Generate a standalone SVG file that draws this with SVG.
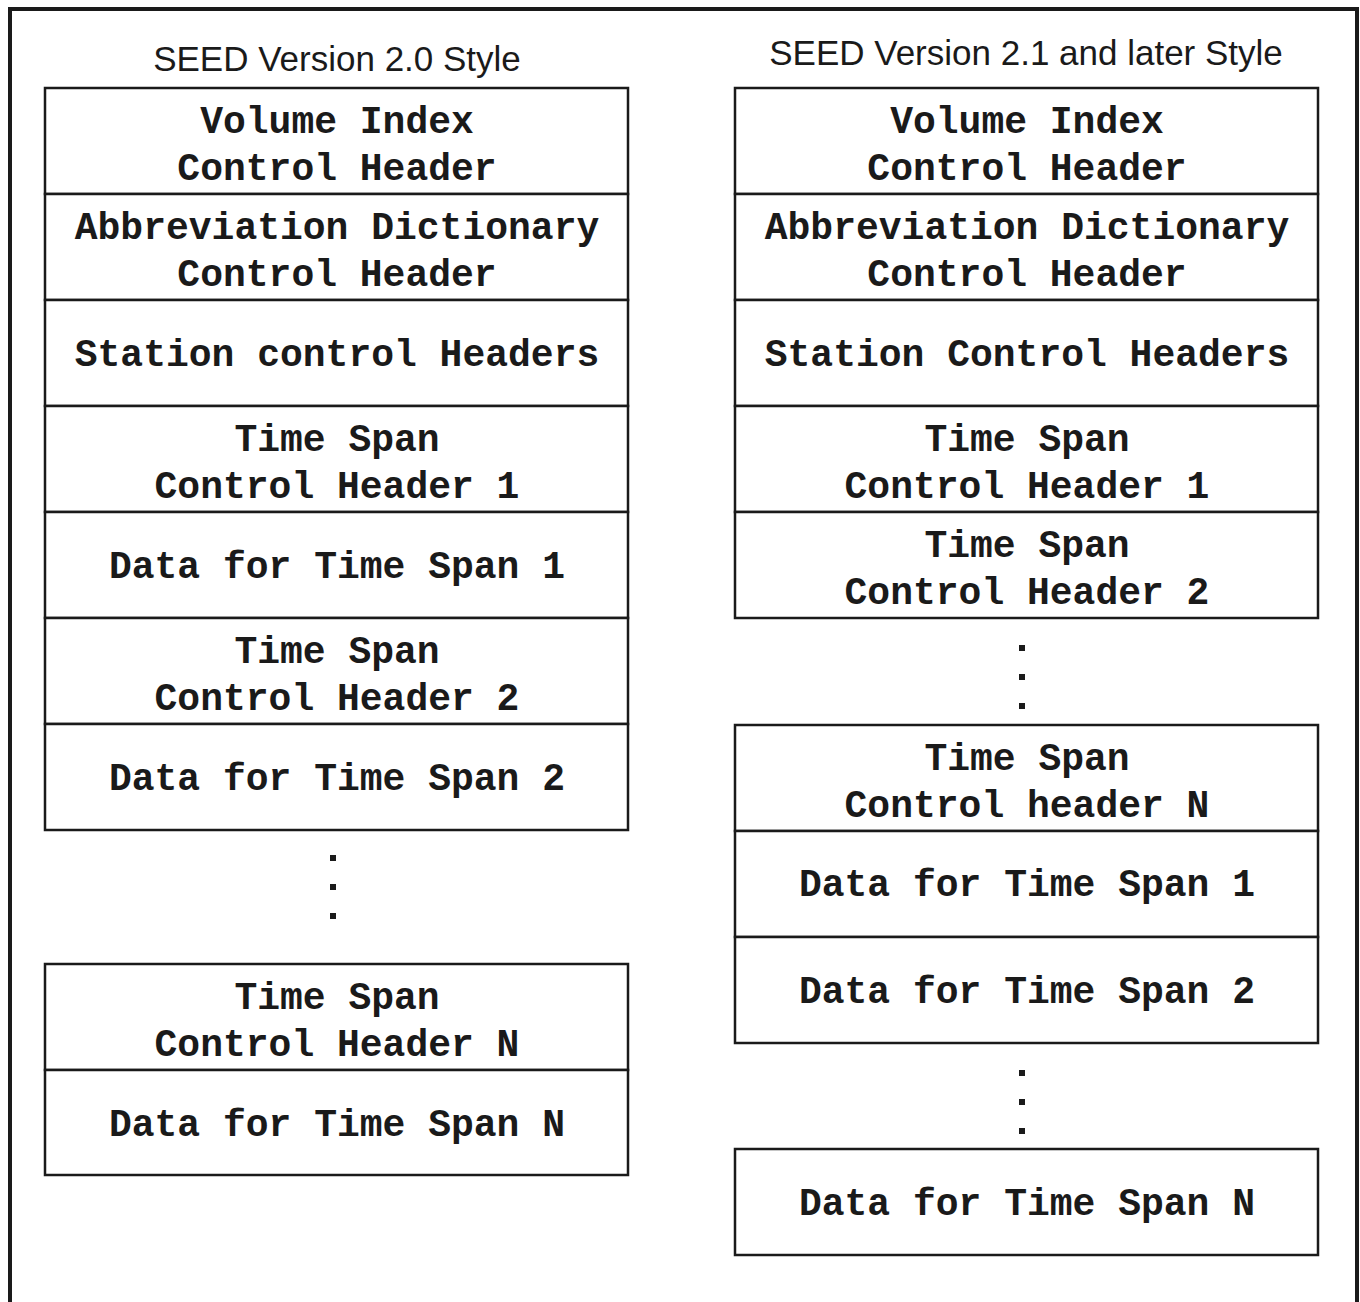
<svg xmlns="http://www.w3.org/2000/svg" width="1360" height="1302" viewBox="0 0 1360 1302">
<style>
.box{fill:#fff;stroke:#1a1a1a;stroke-width:2.5}
.t{font-family:"Liberation Mono","Courier New",monospace;font-weight:bold;font-size:38px;fill:#1a1a1a;text-anchor:middle}
.h{font-family:"Liberation Sans",Arial,sans-serif;font-size:35px;fill:#1a1a1a;text-anchor:middle}
.dot{fill:#1a1a1a}
</style>
<rect width="1360" height="1302" fill="#fff"/>
<path d="M10,1302 V9 H1357 V1302" fill="none" stroke="#1a1a1a" stroke-width="4"/>
<text class="h" x="337" y="71">SEED Version 2.0 Style</text>
<text class="h" x="1026" y="65">SEED Version 2.1 and later Style</text>

<g id="left">
<g id="l1"><rect class="box" x="45" y="88" width="583" height="106"/><text class="t" x="337" y="133">Volume Index</text><text class="t" x="337" y="180">Control Header</text></g>
<g id="l2"><rect class="box" x="45" y="194" width="583" height="106"/><text class="t" x="337" y="239">Abbreviation Dictionary</text><text class="t" x="337" y="286">Control Header</text></g>
<g id="l3"><rect class="box" x="45" y="300" width="583" height="106"/><text class="t" x="337" y="366">Station control Headers</text></g>
<g id="l4"><rect class="box" x="45" y="406" width="583" height="106"/><text class="t" x="337" y="451">Time Span</text><text class="t" x="337" y="498">Control Header 1</text></g>
<g id="l5"><rect class="box" x="45" y="512" width="583" height="106"/><text class="t" x="337" y="578">Data for Time Span 1</text></g>
<g id="l6"><rect class="box" x="45" y="618" width="583" height="106"/><text class="t" x="337" y="663">Time Span</text><text class="t" x="337" y="710">Control Header 2</text></g>
<g id="l7"><rect class="box" x="45" y="724" width="583" height="106"/><text class="t" x="337" y="790">Data for Time Span 2</text></g>
<g id="ldots"><rect class="dot" x="330" y="855" width="6" height="6"/><rect class="dot" x="330" y="884" width="6" height="6"/><rect class="dot" x="330" y="913" width="6" height="6"/></g>
<g id="l8"><rect class="box" x="45" y="964" width="583" height="106"/><text class="t" x="337" y="1009">Time Span</text><text class="t" x="337" y="1056">Control Header N</text></g>
<g id="l9"><rect class="box" x="45" y="1070" width="583" height="105"/><text class="t" x="337" y="1136">Data for Time Span N</text></g>
</g>

<g id="right">
<g id="r1"><rect class="box" x="735" y="88" width="583" height="106"/><text class="t" x="1027" y="133">Volume Index</text><text class="t" x="1027" y="180">Control Header</text></g>
<g id="r2"><rect class="box" x="735" y="194" width="583" height="106"/><text class="t" x="1027" y="239">Abbreviation Dictionary</text><text class="t" x="1027" y="286">Control Header</text></g>
<g id="r3"><rect class="box" x="735" y="300" width="583" height="106"/><text class="t" x="1027" y="366">Station Control Headers</text></g>
<g id="r4"><rect class="box" x="735" y="406" width="583" height="106"/><text class="t" x="1027" y="451">Time Span</text><text class="t" x="1027" y="498">Control Header 1</text></g>
<g id="r5"><rect class="box" x="735" y="512" width="583" height="106"/><text class="t" x="1027" y="557">Time Span</text><text class="t" x="1027" y="604">Control Header 2</text></g>
<g id="rdots1"><rect class="dot" x="1019" y="645" width="6" height="6"/><rect class="dot" x="1019" y="674" width="6" height="6"/><rect class="dot" x="1019" y="703" width="6" height="6"/></g>
<g id="r6"><rect class="box" x="735" y="725" width="583" height="106"/><text class="t" x="1027" y="770">Time Span</text><text class="t" x="1027" y="817">Control header N</text></g>
<g id="r7"><rect class="box" x="735" y="831" width="583" height="106"/><text class="t" x="1027" y="896">Data for Time Span 1</text></g>
<g id="r8"><rect class="box" x="735" y="937" width="583" height="106"/><text class="t" x="1027" y="1003">Data for Time Span 2</text></g>
<g id="rdots2"><rect class="dot" x="1019" y="1070" width="6" height="6"/><rect class="dot" x="1019" y="1099" width="6" height="6"/><rect class="dot" x="1019" y="1128" width="6" height="6"/></g>
<g id="r9"><rect class="box" x="735" y="1149" width="583" height="106"/><text class="t" x="1027" y="1215">Data for Time Span N</text></g>
</g>
<g id="connectors"></g>
</svg>
